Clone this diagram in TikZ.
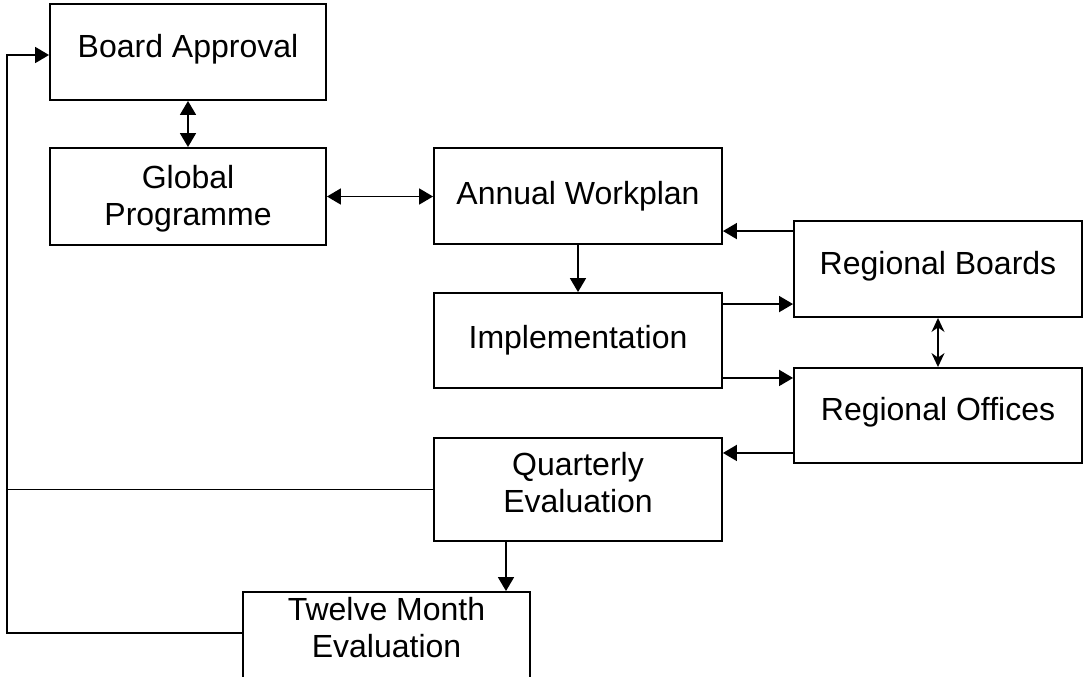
\documentclass[tikz,border=0pt]{standalone}
\usepackage{fontspec}
\setmainfont{Liberation Sans}
\usetikzlibrary{arrows.meta, positioning, calc}
\definecolor{cLine}{RGB}{0,0,0}
\tikzset{
  %% process boxes
  box/.style={rectangle, draw=cLine, line width=0.95pt, align=center,
              font=\fontsize{16}{18.5}\selectfont, inner sep=2pt},
  boxA/.style={box, minimum width=138pt, minimum height=48pt},
  boxB/.style={box, minimum width=144pt, minimum height=48pt},
  %% connectors
  flow/.style={-{Triangle[length=7pt, width=8pt]}, draw=cLine, line width=0.9pt},
  twoway/.style={{Triangle[length=7pt, width=8pt]}-{Triangle[length=7pt, width=8pt]},
                 draw=cLine, line width=0.9pt},
  twowayN/.style={{Stealth[length=7pt, width=6.5pt]}-{Stealth[length=7pt, width=6.5pt]},
                  draw=cLine, line width=0.8pt},
  link/.style={draw=cLine, line width=0.9pt},
}

\begin{document}
\begin{tikzpicture}[x=0.5pt, y=-0.5pt]

\clip (0,0) rectangle (1083,676);

%% ============================================================
%%  COLUMN POSITIONS
%% ============================================================
\def\xL{188}
\def\xM{578}
\def\xR{938}

%% ----- Left column -----
\node[boxA, text depth=6.5pt] (Board)  at (\xL, 52)    {Board Approval};
\node[boxA, minimum height=48.5pt, text depth=1pt] (Global) at (\xL, 196.5) {Global\\Programme};

%% ----- Middle column -----
\node[boxB] (Annual) at (\xM, 196) {Annual Workplan};
\node[boxB, minimum height=47.5pt] (Impl) at (\xM, 340.5) {Implementation};
\node[boxB, minimum height=51.5pt, text depth=6.7pt] (QuartE) at (\xM, 489.5)
  {Quarterly\\Evaluation};
\node[boxB, minimum width=143.5pt, text depth=12.2pt] (TwelveM) at (386.5, 640)
  {Twelve Month\\Evaluation};

%% ----- Right column -----
\node[boxB, text depth=6.5pt] (RegB) at (\xR, 269) {Regional Boards};
\node[boxB, minimum height=47.5pt, text depth=6.5pt] (RegO) at (\xR, 415.5) {Regional Offices};

%% ============================================================
%%  CONNECTORS
%% ============================================================
\draw[twoway] (Board) -- (Global);
\draw[twoway] (Global.east) -- (Global.east -| Annual.west);
\draw[flow] (Annual) -- (Impl);

\coordinate (rbOut) at ($(RegB.north west)+(0,11)$);
\draw[flow] (rbOut) -- (rbOut -| Annual.east);

\coordinate (imOutA) at ($(Impl.north east)+(0,12)$);
\draw[flow] (imOutA) -- (imOutA -| RegB.west);

\coordinate (imOutB) at ($(Impl.south east)+(0,-11)$);
\draw[flow] (imOutB) -- (imOutB -| RegO.west);

\draw[twowayN] (RegB) -- (RegO);

\coordinate (roOut) at ($(RegO.south west)+(0,-11)$);
\draw[flow] (roOut) -- (roOut -| QuartE.east);

\coordinate (qeOut) at ($(QuartE.south)+(-72,0)$);
\draw[flow] (qeOut) -- (qeOut |- TwelveM.north);

%% ============================================================
%%  Feedback loop (left side)
%% ============================================================
\coordinate (fbTop) at (7, 55);
\coordinate (tmOut) at ($(TwelveM.north west)+(0,42)$);
\draw[link] (QuartE.west) -- (QuartE.west -| fbTop);
\draw[flow] (tmOut) -- (tmOut -| fbTop) -- (fbTop) -- (fbTop -| Board.west);

\end{tikzpicture}
\end{document}
